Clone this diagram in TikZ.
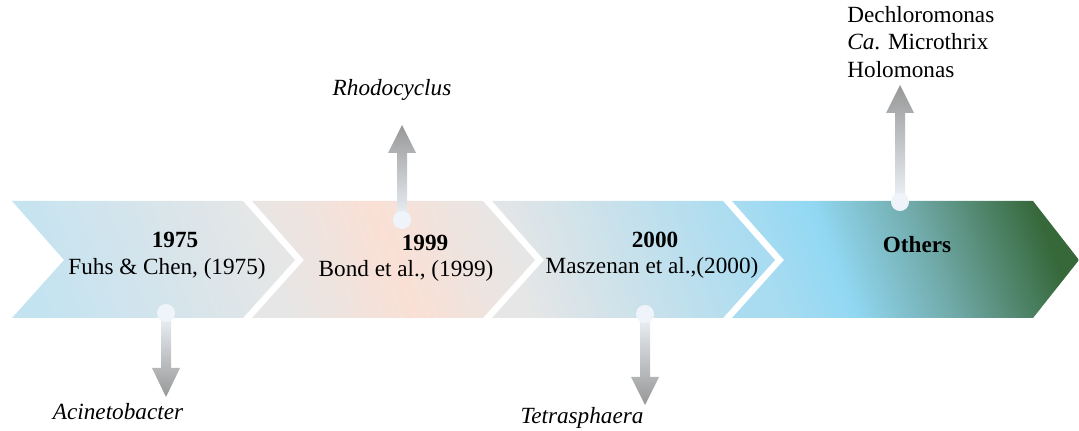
\documentclass[tikz,border=0pt]{standalone}
\usepackage{fontspec}
\setmainfont{Liberation Serif}
\definecolor{cA}{HTML}{C4E3F1}
\definecolor{cB}{HTML}{E6E6E6}
\definecolor{cPeach}{HTML}{FAE0D5}
\definecolor{cC}{HTML}{A9DCF1}
\definecolor{cSky}{HTML}{92D8F3}
\definecolor{cTeal}{HTML}{6FA8A6}
\definecolor{cGreen}{HTML}{36683A}
\definecolor{arrLight}{HTML}{EEF4FA}
\definecolor{arrDark}{HTML}{979797}
\pgfdeclarehorizontalshading{chevD}{100bp}{color(0bp)=(cC); color(25bp)=(cC); color(38bp)=(cSky); color(55bp)=(cTeal); color(75bp)=(cGreen); color(100bp)=(cGreen)}
\tikzset{
  txt/.style={font=\fontsize{11.6}{14}\selectfont, inner sep=0pt, align=center},
  itxt/.style={font=\fontsize{11.6}{14}\selectfont\itshape, inner sep=0pt},
  dot/.style={circle, fill=arrLight, minimum size=18*0.5pt, inner sep=0pt},
}
\begin{document}
\begin{tikzpicture}[x=0.5pt, y=-0.5pt]
\useasboundingbox (0,0) rectangle (1079,431);
% chevrons
\shade[left color=cA, right color=cB, shading angle=111]
  (12,201) -- (243,201) -- (295,260) -- (243,318) -- (12,318) -- (64,260) -- cycle;
\shade[left color=cB, right color=cB, middle color=cPeach, shading angle=111]
  (252,201) -- (483,201) -- (535,260) -- (483,318) -- (252,318) -- (304,260) -- cycle;
\shade[left color=cB, right color=cC, shading angle=111]
  (492,201) -- (723,201) -- (775,260) -- (723,318) -- (492,318) -- (544,260) -- cycle;
\shade[shading=chevD, shading angle=21]
  (732,201) -- (1033,201) -- (1079,260) -- (1033,318) -- (732,318) -- (784,260) -- cycle;
% chevron texts
\node[txt] (y1975) at (175,240) {\textbf{1975}};
\node[txt] (r1975) at (167,269) {Fuhs \& Chen, (1975)};
\node[txt] (y1999) at (425,243) {\textbf{1999}};
\node[txt] (r1999) at (406,271) {Bond et al., (1999)};
\node[txt] (y2000) at (655,240) {\textbf{2000}};
\node[txt] (r2000) at (652,268) {Maszenan et al.,(2000)};
\node[txt] (others) at (917,245) {\textbf{Others}};
% arrows
\shade[top color=arrLight, bottom color=arrDark]
  (161,313) -- (161,368) -- (152,368) -- (166,397) -- (180,368) -- (171,368) -- (171,313) -- cycle;
\node[dot] (d1) at (166,313) {};
\shade[top color=arrDark, bottom color=arrLight]
  (397,220) -- (397,153) -- (388,153) -- (402,125) -- (416,153) -- (407,153) -- (407,220) -- cycle;
\node[dot] (d2) at (402,220) {};
\shade[top color=arrLight, bottom color=arrDark]
  (640,314) -- (640,377) -- (631,377) -- (645,405) -- (659,377) -- (650,377) -- (650,314) -- cycle;
\node[dot] (d3) at (645,314) {};
\shade[top color=arrDark, bottom color=arrLight]
  (895,202) -- (895,113) -- (886,113) -- (900,85) -- (914,113) -- (905,113) -- (905,202) -- cycle;
\node[dot] (d4) at (900,202) {};
% labels
\node[itxt] (acin) at (118,412) {Acinetobacter};
\node[itxt] (rhodo) at (392,90) {Rhodocyclus};
\node[itxt] (tetra) at (582,418) {Tetrasphaera};
\node[txt, align=left, anchor=north west, font=\fontsize{11.6}{13.75}\selectfont] (oth) at (847,6)
  {Dechloromonas\\\textit{Ca}. Microthrix\\Holomonas};
\end{tikzpicture}
\end{document}
